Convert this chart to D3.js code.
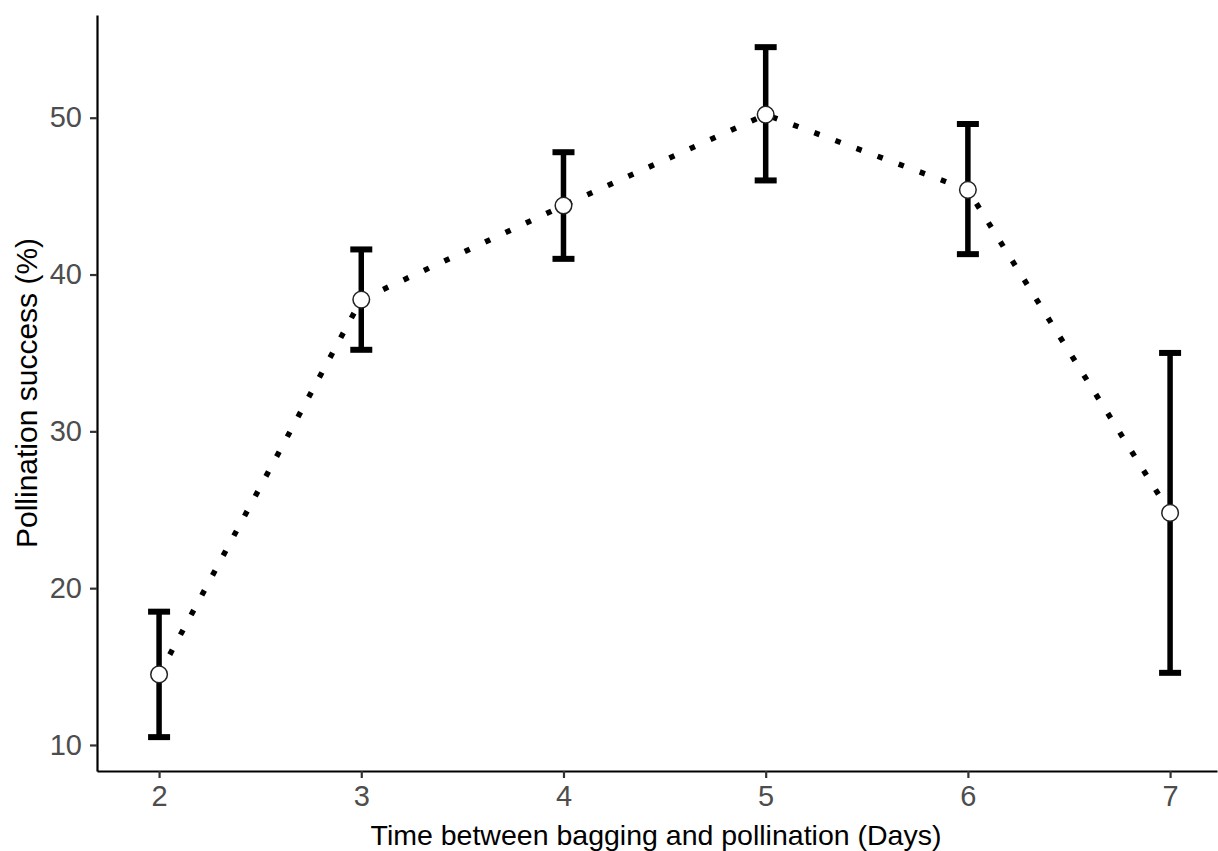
<!DOCTYPE html>
<html><head><meta charset="utf-8">
<script src="https://cdn.jsdelivr.net/npm/d3@7"></script>
<style>body{margin:0;background:#fff}svg{display:block}text{font-family:"Liberation Sans",Arial,sans-serif}</style>
</head><body><svg id="c" width="1218" height="851"></svg>
<script>
const days = [2, 3, 4, 5, 6, 7];
const means = [14.5, 38.4, 44.4, 50.2, 45.4, 24.8];
const lower = [10.5, 35.2, 41.0, 46.0, 41.3, 14.6];
const upper = [18.5, 41.6, 47.8, 54.5, 49.6, 35.0];
const yTicks = [10, 20, 30, 40, 50];
const xTicks = [2, 3, 4, 5, 6, 7];
const xTitle = "Time between bagging and pollination (Days)";
const yTitle = "Pollination success (%)";

const data = days.map((d, i) => ({d, m: means[i], lo: lower[i], hi: upper[i]}));
const svg = d3.select("#c");
const L = 97, R = 1217, T = 15, B = 771;
const x = d3.scaleLinear().domain([1.693, 7.232]).range([L, R]);
const y = d3.scaleLinear().domain([8.34, 56.55]).range([B, T]);

// axes
const ax = svg.append("g").attr("transform", `translate(0,${B})`)
  .call(d3.axisBottom(x).tickValues(xTicks).tickSize(7).tickSizeOuter(0).tickPadding(7).tickFormat(d3.format("d")));
const ay = svg.append("g").attr("transform", `translate(${L},0)`)
  .call(d3.axisLeft(y).tickValues(yTicks).tickSize(7).tickSizeOuter(0).tickPadding(8).tickFormat(d3.format("d")));
[ax, ay].forEach(g => {
  g.select(".domain").attr("stroke", "#000").attr("stroke-width", 2.2);
  g.selectAll(".tick line").attr("stroke", "#333").attr("stroke-width", 2.2);
  g.selectAll(".tick text").attr("fill", "#4d4d4d").style("font-size", "29px");
});

// line
svg.append("path").datum(data)
  .attr("d", d3.line().x(d => x(d.d)).y(d => y(d.m)))
  .attr("fill", "none").attr("stroke", "#000").attr("stroke-width", 5.5)
  .attr("stroke-dasharray", "5.5,17");

// error bars
const eb = svg.append("g").attr("stroke", "#000").attr("stroke-width", 5.5);
data.forEach(d => {
  eb.append("line").attr("x1", x(d.d)).attr("x2", x(d.d)).attr("y1", y(d.lo)).attr("y2", y(d.hi));
  eb.append("line").attr("x1", x(d.d) - 11).attr("x2", x(d.d) + 11).attr("y1", y(d.lo)).attr("y2", y(d.lo)).attr("stroke-width", 6);
  eb.append("line").attr("x1", x(d.d) - 11).attr("x2", x(d.d) + 11).attr("y1", y(d.hi)).attr("y2", y(d.hi)).attr("stroke-width", 6);
});

// points
svg.append("g").selectAll("circle").data(data).join("circle")
  .attr("cx", d => x(d.d)).attr("cy", d => y(d.m)).attr("r", 8.3)
  .attr("fill", "#fff").attr("stroke", "#222").attr("stroke-width", 1.5);

// titles
svg.append("text").attr("x", 656).attr("y", 845).attr("text-anchor", "middle")
  .style("font-size", "28.5px").attr("fill", "#000").text(xTitle);
svg.append("text").attr("transform", `translate(37,393) rotate(-90)`).attr("text-anchor", "middle")
  .style("font-size", "30px").attr("fill", "#000").text(yTitle);
</script></body></html>
